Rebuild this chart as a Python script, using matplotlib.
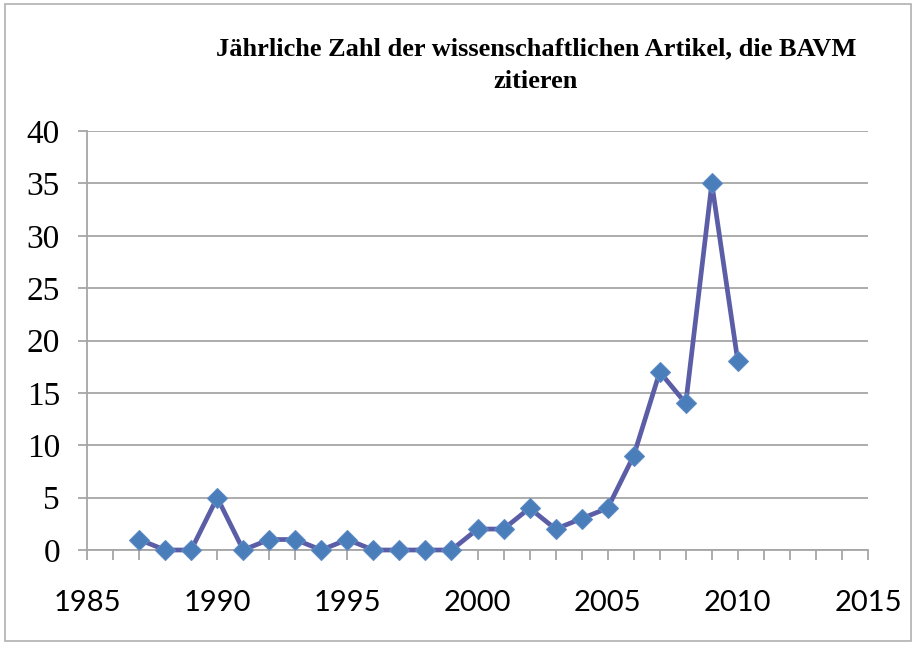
import matplotlib
matplotlib.use("Agg")
import matplotlib.pyplot as plt
from matplotlib.ticker import MultipleLocator
from matplotlib.patches import Rectangle

years = [1987, 1988, 1989, 1990, 1991, 1992, 1993, 1994, 1995, 1996, 1997, 1998,
         1999, 2000, 2001, 2002, 2003, 2004, 2005, 2006, 2007, 2008, 2009, 2010]
articles = [1, 0, 0, 5, 0, 1, 1, 0, 1, 0, 0, 0,
            0, 2, 2, 4, 2, 3, 4, 9, 17, 14, 35, 18]
title = "Jährliche Zahl der wissenschaftlichen Artikel, die BAVM\nzitieren"

grid_grey = "#a6a6a6"

fig = plt.figure(figsize=(9.16, 6.46), dpi=100)
ax = fig.add_axes([0.095, 0.1486, 0.8526, 0.6486])

ax.plot(years, articles, color="#5b5ea6", lw=3.4, marker="D", ms=10.5,
        mfc="#4a7ebb", mec="#5d8ac4", mew=0.8, zorder=3, clip_on=False)

ax.set_xlim(1985, 2015)
ax.set_ylim(0, 40)
ax.xaxis.set_major_locator(MultipleLocator(5))
ax.xaxis.set_minor_locator(MultipleLocator(1))
ax.yaxis.set_major_locator(MultipleLocator(5))
ax.grid(axis="y", color=grid_grey, lw=1.3)
ax.set_axisbelow(True)

for side in ("top", "right"):
    ax.spines[side].set_visible(False)
for side in ("left", "bottom"):
    ax.spines[side].set_color(grid_grey)
    ax.spines[side].set_linewidth(1.3)

ax.tick_params(axis="y", direction="out", length=6.5, width=1.3, color=grid_grey, pad=13)
ax.tick_params(axis="x", which="both", direction="out", length=7, width=1.3,
               color=grid_grey, pad=22)
for lab in ax.get_yticklabels():
    lab.set_fontfamily("Liberation Serif")
    lab.set_fontsize(24)
for lab in ax.get_xticklabels():
    lab.set_fontfamily(["Liberation Sans Narrow", "Lato"])
    lab.set_fontsize(21)

fig.text(0.585, 0.8995, title, ha="center", va="center", fontsize=19,
         fontweight="bold", family="Liberation Serif", linespacing=1.55)

# thin frame around the chart area
fig.patches.append(Rectangle((0.005, 0.008), 0.99, 0.986, transform=fig.transFigure,
                             fill=False, edgecolor="#b0b0b0", lw=1.2))

fig.savefig("out.png", dpi=100)
